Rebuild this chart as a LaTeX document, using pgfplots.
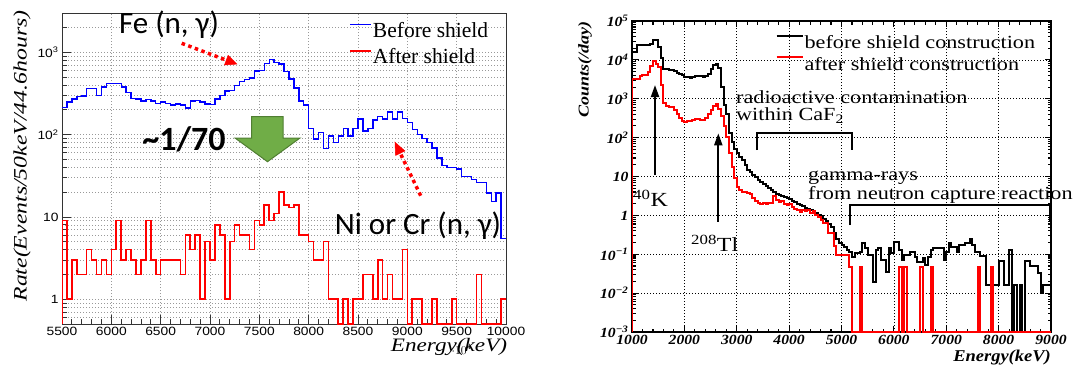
\documentclass[border=0pt]{standalone}
\usepackage{graphicx}
\usepackage{fontspec}
\setmainfont{Liberation Serif}
\newfontfamily\lsans[FakeStretch=1.15]{Liberation Sans}
\newfontfamily\lseritN{Liberation Serif Italic}
\newfontfamily\rser[FakeStretch=1.2]{Liberation Serif}
\newfontfamily\rbi[FakeStretch=1.12]{Liberation Serif Bold Italic}
\newfontfamily\rbiN{Liberation Serif Bold Italic}
\newfontfamily\cali{Carlito}
\usepackage{pgfplots}
\pgfplotsset{compat=1.18}
\usetikzlibrary{arrows.meta,calc}
\definecolor{offgreen}{HTML}{70AD47}
\definecolor{offgreendark}{HTML}{507E32}
\begin{document}
\begin{tikzpicture}[x=1pt,y=1pt]
\path[use as bounding box] (0,0) rectangle (1082,368);
% ---------------- left panel ----------------
\begin{axis}[
 at={(62pt,44pt)}, anchor=south west, scale only axis, width=444pt, height=311pt,
 xmin=5500, xmax=10000, ymode=log, ymin=0.5, ymax=3000,
 xtick={5500,6000,6500,7000,7500,8000,8500,9000,9500,10000},
 xticklabels={5500,6000,6500,7000,7500,8000,8500,9000,9500,10000},
 minor x tick num=4,
 ytick={1,10,100,1000}, yticklabels={1,10,10\textsuperscript{2},10\textsuperscript{3}},
 minor ytick={0.6,0.7,0.8,0.9,2,3,4,5,6,7,8,9,20,30,40,50,60,70,80,90,200,300,400,500,600,700,800,900,2000,3000},
 tick pos=left, tick align=inside, major tick length=9pt, minor tick length=5pt,
 axis line style={black!80, line width=0.8pt},
 every tick/.style={black!80, line width=0.8pt},
 xmajorgrids, ymajorgrids, yminorgrids,
 major grid style={gray!80, line width=0.7pt, dash pattern=on 1pt off 2pt},
 minor grid style={gray!80, line width=0.7pt, dash pattern=on 1pt off 2pt},
 ticklabel style={font=\lsans\fontsize{12}{14}\selectfont},
 xlabel={\scalebox{1.22}[1]{\lseritN Energy(keV)}},
 xlabel style={at={(axis description cs:1.003,-0.089)}, anchor=base east, font=\fontsize{19}{20}\selectfont, inner sep=0pt},
 ylabel={\scalebox{1.25}[1]{\lseritN Rate(Events/50keV/44.6hours)}},
 ylabel style={at={(axis description cs:-0.09,0.54)}, anchor=center, font=\fontsize{19}{20}\selectfont, inner sep=0pt},
 legend style={at={(axis description cs:0.640,0.981)}, anchor=north west, draw=none, fill=none,
   font=\fontsize{21.5}{22}\selectfont, row sep=8pt, nodes={inner sep=1pt}},
 legend cell align=left,
 legend image code/.code={\draw[#1] (0pt,6pt) -- (21pt,6pt);},
 const plot mark left,
]
\addplot[blue, line width=1.4pt] coordinates {
(5500,215)(5550,250)(5600,270)(5650,290)(5700,295)(5750,360)(5800,365)(5850,300)(5900,380)(5950,415)
(6000,420)(6050,415)(6100,380)(6150,325)(6200,275)(6250,270)(6300,255)(6350,265)(6400,255)(6450,240)
(6500,250)(6550,240)(6600,230)(6650,235)(6700,228)(6750,210)(6800,255)(6850,258)(6900,248)(6950,235)
(7000,232)(7050,270)(7100,300)(7150,340)(7200,345)(7250,392)(7300,440)(7350,465)(7400,485)(7450,590)
(7500,600)(7550,730)(7600,815)(7650,750)(7700,720)(7750,585)(7800,473)(7850,370)(7900,255)(7950,230)
(8000,118)(8050,88)(8100,106)(8150,68)(8200,96)(8250,80)(8300,96)(8350,118)(8400,96)(8450,118)
(8500,154)(8550,111)(8600,118)(8650,150)(8700,166)(8750,154)(8800,189)(8850,154)(8900,189)(8950,157)
(9000,140)(9050,116)(9100,101)(9150,89)(9200,80)(9250,69)(9300,52)(9350,42)(9400,40)(9450,40)
(9500,38)(9550,31)(9600,31)(9650,28.5)(9700,26)(9750,26)(9800,19.6)(9850,15.5)(9900,19.6)(9950,5.5)(10000,5.5)};
\addlegendentry{Before shield}
\addplot[red, line width=1.6pt] coordinates {
(5500,0.5)(5500,9)(5550,1)(5600,3)(5650,2)(5700,2)(5750,4)(5800,3)(5850,2)(5900,3)(5950,2)
(6000,4)(6050,9)(6100,3)(6150,4)(6200,3)(6250,2)(6300,3)(6350,9)(6400,3)(6450,2)
(6500,3)(6550,3)(6600,3)(6650,3)(6700,2)(6750,6)(6800,4)(6850,6)(6900,1)(6950,5)
(7000,3)(7050,8)(7100,6)(7150,1)(7200,5)(7250,8)(7300,6)(7350,6)(7400,4)(7450,9)
(7500,8)(7550,14)(7600,9)(7650,11)(7700,20)(7750,14)(7800,13)(7850,14)(7900,6)(7950,6)
(8000,5)(8050,3)(8100,3)(8150,5)(8200,1)(8250,1)(8300,0.5)(8350,1)(8400,0.5)(8450,1)
(8500,1)(8550,2)(8600,2)(8650,1)(8700,3)(8750,1)(8800,2)(8850,1)(8900,1)(8950,4)
(9000,0.5)(9050,1)(9100,1)(9150,0.5)(9200,0.5)(9250,1)(9300,0.5)(9350,0.5)(9400,0.5)(9450,1)
(9500,0.5)(9550,0.5)(9600,0.5)(9650,0.5)(9700,2)(9750,0.5)(9800,0.5)(9850,0.5)(9900,0.5)(9950,1)(10000,1)};
\addlegendentry{After shield}
\end{axis}
% ---------------- right panel ----------------
\begin{axis}[
 at={(632pt,36pt)}, anchor=south west, scale only axis, width=419pt, height=311pt,
 xmin=1000, xmax=9000, ymode=log, ymin=0.001, ymax=100000,
 xtick={1000,2000,3000,4000,5000,6000,7000,8000,9000},
 xticklabels={1000,2000,3000,4000,5000,6000,7000,8000,9000},
 minor x tick num=4,
 ytick={0.001,0.01,0.1,1,10,100,1000,10000,100000},
 yticklabels={10\textsuperscript{−3},10\textsuperscript{−2},10\textsuperscript{−1},1,10,10\textsuperscript{2},10\textsuperscript{3},10\textsuperscript{4},10\textsuperscript{5}},
 minor ytick={0.002,0.003,0.004,0.005,0.006,0.007,0.008,0.009,0.02,0.03,0.04,0.05,0.06,0.07,0.08,0.09,0.2,0.3,0.4,0.5,0.6,0.7,0.8,0.9,2,3,4,5,6,7,8,9,20,30,40,50,60,70,80,90,200,300,400,500,600,700,800,900,2000,3000,4000,5000,6000,7000,8000,9000,20000,30000,40000,50000,60000,70000,80000,90000},
 tick align=inside, major tick length=6.5pt, minor tick length=3.5pt,
 axis line style={black, line width=1.6pt},
 every tick/.style={black, line width=1.1pt},
 xmajorgrids, ymajorgrids,
 major grid style={black, line width=0.7pt, dash pattern=on 1pt off 2pt},
 ticklabel style={font=\rbi\fontsize{14}{16}\selectfont},
 xlabel={\rbi Energy(keV)},
 xlabel style={at={(axis description cs:1.0,-0.0955)}, anchor=base east, font=\fontsize{16.5}{18}\selectfont, inner sep=0pt},
 ylabel={\scalebox{1.2}[1]{\rbiN Counts(/day)}},
 ylabel style={at={(axis description cs:-0.112,0.844)}, anchor=center, font=\fontsize{15}{16}\selectfont, inner sep=0pt},
 legend style={at={(axis description cs:0.335,0.963)}, anchor=north west, draw=none, fill=none,
   font=\rser\fontsize{18.5}{19}\selectfont, row sep=5pt, nodes={inner sep=1pt}},
 legend cell align=left,
 legend image code/.code={\draw[#1] (0pt,7pt) -- (26pt,7pt);},
 const plot mark left,
]
\addplot[black, line width=2pt] coordinates {
(1000,0.001)(1000,16000)(1050,16000)(1100,24000)(1150,24000)(1200,24000)(1250,24000)(1300,24500)(1350,26000)(1400,32000)(1450,32000)
(1500,21000)(1550,11000)(1600,6000)(1650,5700)(1700,5400)(1750,5400)(1800,5300)(1850,4500)(1900,4400)(1950,4200)
(2000,3700)(2050,3600)(2100,3500)(2150,3600)(2200,3800)(2250,3900)(2300,3800)(2350,3700)(2400,3800)(2450,4400)
(2500,5800)(2550,7200)(2600,7900)(2650,6300)(2700,2000)(2750,700)(2800,400)(2850,130)(2900,75)(2950,50)
(3000,40)(3050,32)(3100,26)(3150,20)(3200,15)(3250,13)(3300,11)(3350,9.8)(3400,8.3)(3450,7.4)
(3500,6.6)(3550,5.8)(3600,5.0)(3650,4.4)(3700,4.0)(3750,3.6)(3800,3.3)(3850,3.2)(3900,2.95)(3950,2.75)
(4000,2.6)(4050,2.3)(4100,2.2)(4150,2.0)(4200,1.86)(4250,1.7)(4300,1.58)(4350,1.48)(4400,1.38)(4450,1.26)
(4500,1.15)(4550,1.05)(4600,0.95)(4650,0.83)(4700,0.72)(4750,0.60)(4800,0.50)(4850,0.35)(4900,0.25)(4950,0.19)
(5000,0.174)(5050,0.158)(5100,0.129)(5150,0.112)(5200,0.087)(5250,0.105)(5300,0.105)(5350,0.115)(5400,0.19)(5450,0.141)
(5500,0.095)(5550,0.095)(5600,0.0195)(5650,0.129)(5700,0.141)(5750,0.071)(5800,0.071)(5850,0.034)(5900,0.141)(5950,0.105)
(6000,0.21)(6050,0.21)(6100,0.129)(6150,0.071)(6200,0.095)(6250,0.095)(6300,0.115)(6350,0.115)(6400,0.087)(6450,0.065)
(6500,0.065)(6550,0.078)(6600,0.052)(6650,0.087)(6700,0.129)(6750,0.141)(6800,0.141)(6850,0.141)(6900,0.141)(6950,0.071)
(7000,0.115)(7050,0.19)(7100,0.155)(7150,0.155)(7200,0.115)(7250,0.174)(7300,0.174)(7350,0.19)(7400,0.19)(7450,0.24)
(7500,0.174)(7550,0.115)(7600,0.115)(7650,0.089)(7700,0.089)(7750,0.0166)(7800,0.0166)(7850,0.0166)(7900,0.0166)(7950,0.0166)
(8000,0.068)(8050,0.068)(8100,0.0166)(8150,0.0166)(8200,0.129)(8250,0.001)(8300,0.0166)(8350,0.001)(8400,0.0166)(8450,0.001)
(8500,0.068)(8550,0.068)(8600,0.05)(8650,0.05)(8700,0.05)(8750,0.032)(8800,0.01)(8850,0.0166)(8900,0.0166)(8950,0.0166)(9000,0.0166)};
\addlegendentry{before shield construction}
\addplot[red, line width=2pt] coordinates {
(1000,0.001)(1000,3300)(1050,3300)(1100,3300)(1150,3800)(1200,4100)(1250,4100)(1300,4800)(1350,7100)(1400,9300)(1450,7900)
(1500,6600)(1550,2200)(1600,800)(1650,660)(1700,600)(1750,600)(1800,510)(1850,400)(1900,320)(1950,260)
(2000,257)(2050,263)(2100,275)(2150,290)(2200,300)(2250,295)(2300,280)(2350,290)(2400,316)(2450,400)
(2500,500)(2550,660)(2600,720)(2650,560)(2700,350)(2750,200)(2800,105)(2850,40)(2900,18)(2950,8.9)
(3000,5.5)(3050,4.6)(3100,4.1)(3150,4.0)(3200,3.8)(3250,3.6)(3300,2.8)(3350,2.4)(3400,2.1)(3450,2.0)
(3500,2.05)(3550,2.0)(3600,2.05)(3650,2.1)(3700,3.2)(3750,2.5)(3800,2.15)(3850,2.3)(3900,2.0)(3950,1.9)
(4000,2.0)(4050,1.66)(4100,1.5)(4150,1.38)(4200,1.2)(4250,1.4)(4300,1.26)(4350,1.38)(4400,1.15)(4450,1.3)
(4500,1.05)(4550,0.93)(4600,0.76)(4650,0.62)(4700,0.62)(4750,0.35)(4800,0.35)(4850,0.16)(4900,0.095)(4950,0.095)
(5000,0.095)(5050,0.095)(5100,0.095)(5150,0.048)(5200,0.001)(5350,0.048)(5400,0.001)(6100,0.048)(6150,0.001)(6200,0.048)
(6250,0.001)(6500,0.048)(6550,0.001)(6700,0.048)(6750,0.001)(7600,0.048)(7650,0.001)(7850,0.048)(7900,0.001)(9000,0.001)};
\addlegendentry{after shield construction}
\end{axis}
% ---------------- left annotations ----------------
\node[anchor=base, font=\cali\fontsize{31}{32}\selectfont, inner sep=0pt] at (169,335) {Fe (n, γ)};
\node[anchor=base, font=\cali\bfseries\fontsize{34}{36}\selectfont, inner sep=0pt] at (184,218) {\char`~1/70};
\node[anchor=base, font=\cali\fontsize{31}{32}\selectfont, inner sep=0pt] at (418,134) {Ni or Cr (n, γ)};
\filldraw[fill=offgreen, draw=offgreendark, line width=1pt]
 (251.7,251.3) -- (283,251.3) -- (283,230) -- (300,230) -- (267.5,206.3) -- (235,230) -- (251.7,230) -- cycle;
\draw[red, line width=3.5pt, dash pattern=on 3.5pt off 3.5pt] (181.7,324.7) -- ($(237.3,303.7)!11pt!(181.7,324.7)$);
\draw[red, line width=0.5pt, -{Triangle[length=12pt,width=11pt]}] ($(237.3,303.7)!12pt!(181.7,324.7)$) -- (237.3,303.7);
\draw[red, line width=3.5pt, dash pattern=on 3.5pt off 3.5pt] (420.7,172.3) -- ($(394.7,226.3)!12pt!(420.7,172.3)$);
\draw[red, line width=0.5pt, -{Triangle[length=13pt,width=11pt]}] ($(394.7,226.3)!13pt!(420.7,172.3)$) -- (394.7,226.3);
% ---------------- right annotations ----------------
\node[anchor=base west, font=\rser\fontsize{18.5}{19}\selectfont, inner sep=0pt] at (736,264.7) {radioactive contamination};
\node[anchor=base west, font=\rser\fontsize{18.5}{19}\selectfont, inner sep=0pt] at (736,247.3) {within CaF\textsubscript{2}};
\draw[black, line width=2pt] (757,218) -- (757,235) -- (852,235) -- (852,218);
\node[anchor=base west, font=\rser\fontsize{18.5}{19}\selectfont, inner sep=0pt] at (808,188) {gamma-rays};
\node[anchor=base west, font=\rser\fontsize{18.5}{19}\selectfont, inner sep=0pt] at (808,168.7) {from neutron capture reaction};
\draw[black, line width=2pt] (849.7,143) -- (849.7,163) -- (1049.7,163) -- (1049.7,146);
\draw[black, line width=2pt, -{Triangle[length=12pt,width=8pt]}] (655,193) -- (655,283);
\draw[black, line width=2pt, -{Triangle[length=12pt,width=8pt]}] (718.3,146.3) -- (718.3,234.7);
\node[anchor=base west, font=\rser\fontsize{20}{21}\selectfont, inner sep=0pt] at (633,161.3) {\textsuperscript{40}K};
\node[anchor=base west, font=\rser\fontsize{20}{21}\selectfont, inner sep=0pt] at (691,116.3) {\textsuperscript{208}Tl};
\end{tikzpicture}
\end{document}
